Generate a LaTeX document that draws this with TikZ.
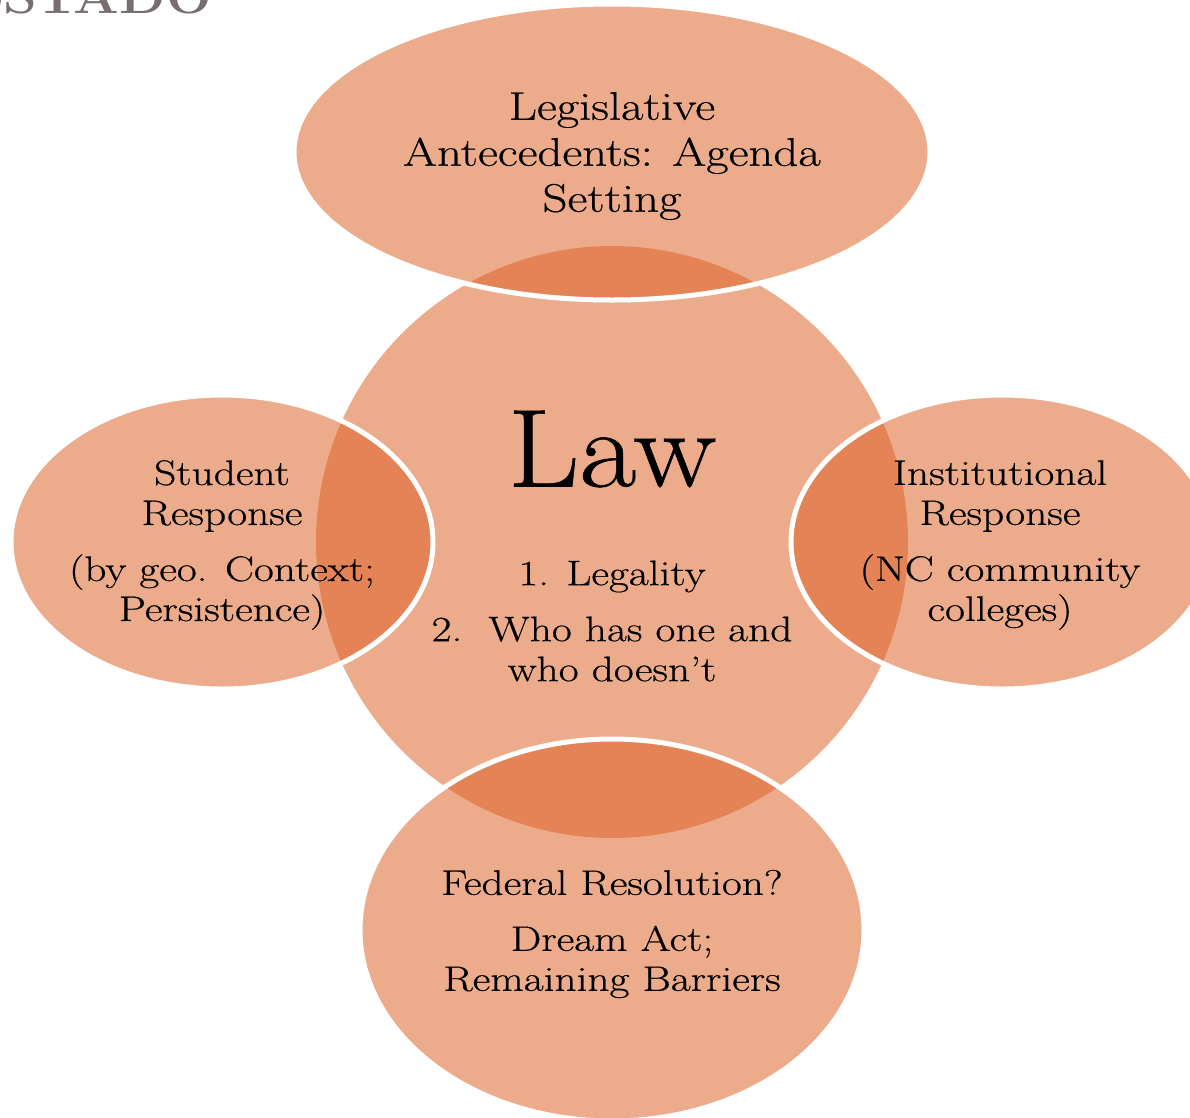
\documentclass[tikz,border=0pt]{standalone}
\usepackage{fontspec}
\setmainfont{Latin Modern Roman}[FakeStretch=1.22, FakeBold=0.5]
\newfontfamily\lawfont{Latin Modern Roman}[FakeStretch=1.12, FakeBold=0.5]
\newfontfamily\estfont{Latin Modern Roman}[FakeStretch=1.1]
\usetikzlibrary{shapes.geometric}
\definecolor{lawor}{RGB}{220,98,38}
\definecolor{estgray}{RGB}{120,110,110}
\tikzset{
  blob/.style={ellipse, inner sep=0pt, fill=lawor, fill opacity=0.53},
  blobedge/.style={blob, draw=white, draw opacity=1, line width=5pt},
  bigtxt/.style={align=center, font=\fontsize{40}{46}\selectfont, text=black},
  midtxt/.style={align=center, font=\fontsize{35.5}{40}\selectfont, text=black}
}
\begin{document}
\begin{tikzpicture}[x=1pt,y=-1pt]
\useasboundingbox (0,0) rectangle (1190,1117);
% central circle
\node[blob, minimum width=592pt, minimum height=592pt] (law) at (612,542) {};
% satellites
\node[blobedge, minimum width=636pt, minimum height=296pt] (top) at (612,152) {};
\node[blobedge, minimum width=422pt, minimum height=294pt] (left) at (222,542) {};
\node[blobedge, minimum width=422pt, minimum height=294pt] (right) at (1002,542) {};
\node[blobedge, minimum width=504pt, minimum height=382pt] (bottom) at (612,930) {};
% texts
\node[anchor=base east, inner sep=0pt, text=estgray, font=\estfont\bfseries\fontsize{49}{54}\selectfont] (estado) at (212,13) {ESTADO};
\node[bigtxt] (toptxt) at (612,156) {Legislative\\Antecedents: Agenda\\Setting};
\node[font=\lawfont\fontsize{111}{120}\selectfont] (lawtxt) at (612,449) {Law};
\node[midtxt] (lawlist) at (612,621) {1. Legality\\[16pt]2.\ \ Who has one and\\who doesn’t};
\node[midtxt] (lefttxt) at (222,545) {Student\\Response\\[16pt](by geo. Context;\\Persistence)};
\node[midtxt] (righttxt) at (1000,545) {Institutional\\Response\\[16pt](NC community\\colleges)};
\node[midtxt] (bottxt) at (612,934) {Federal Resolution?\\[16pt]Dream Act;\\Remaining Barriers};
\end{tikzpicture}
\end{document}
